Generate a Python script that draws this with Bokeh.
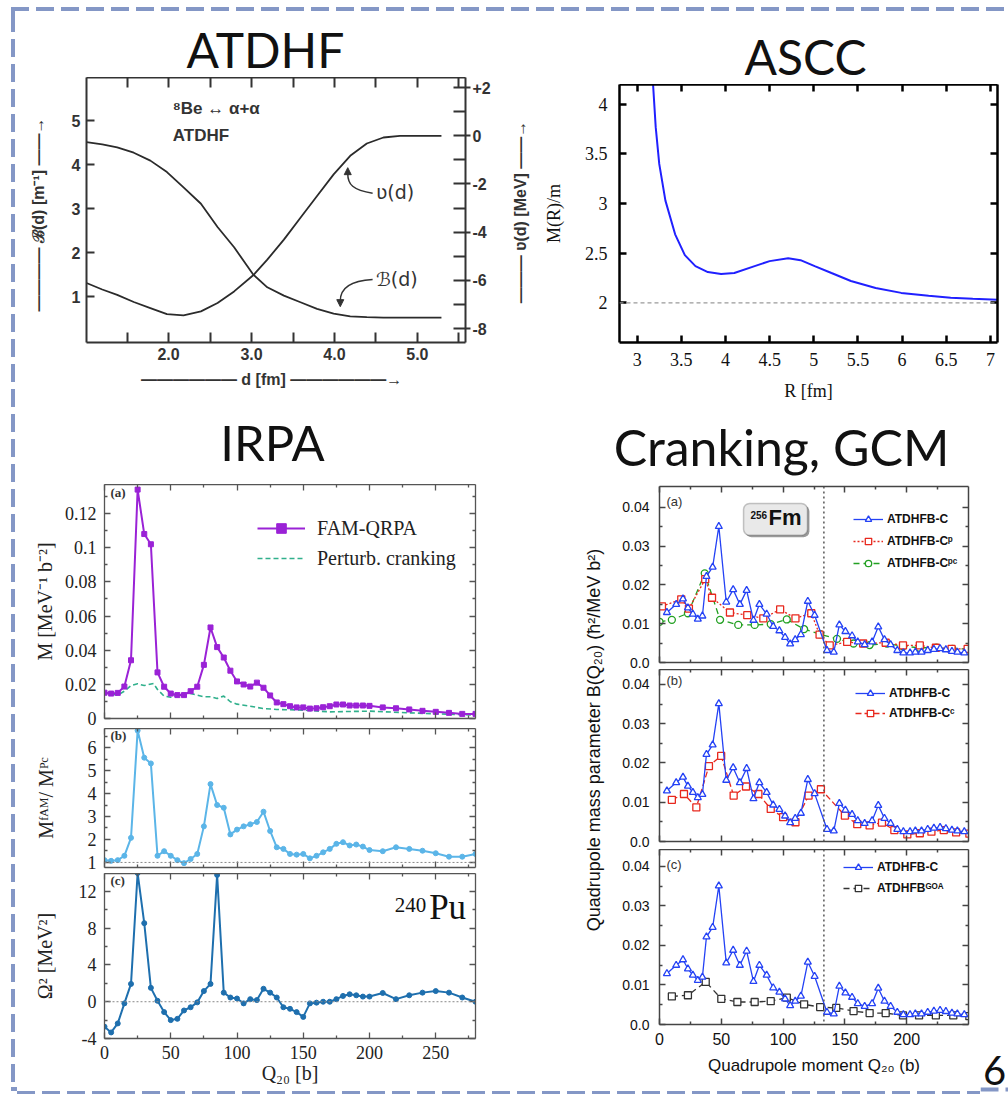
import math
from bokeh.plotting import figure
from bokeh.models import (Range1d, LinearAxis, Label, Span, Legend, LegendItem,
                          FixedTicker, CustomJSTickFormatter, Arrow, NormalHead,
                          BoxAnnotation, Div)
from bokeh.layouts import row, column
from bokeh.embed import file_html
from bokeh.resources import INLINE

# ============================ DATA ============================
# --- ATDHF : 8Be -> alpha + alpha ---
atdhf_d = [1.01, 1.2, 1.38, 1.58, 1.78, 1.98, 2.18, 2.39, 2.59, 2.79, 3.02,
           3.19, 3.39, 3.59, 3.79, 3.99, 4.19, 4.39, 4.59, 4.79, 5.0, 5.29]
atdhf_B = [4.51, 4.46, 4.39, 4.27, 4.09, 3.83, 3.48, 3.11, 2.58, 2.12, 1.50,
           1.21, 1.02, 0.87, 0.72, 0.61, 0.55, 0.53, 0.52, 0.52, 0.52, 0.52]
atdhf_V = [-6.11, -6.38, -6.60, -6.90, -7.15, -7.40, -7.45, -7.29, -6.94, -6.46, -5.79,
           -5.14, -4.31, -3.40, -2.50, -1.60, -0.83, -0.32, -0.07, 0.0, 0.0, 0.0]
atdhf_xticks = [1.5, 2.0, 2.5, 3.0, 3.5, 4.0, 4.5, 5.0, 5.5]
atdhf_xtick_labels = ["", "2.0", "", "3.0", "", "4.0", "", "5.0", ""]
atdhf_Bticks = [1, 2, 3, 4, 5]
atdhf_Btick_labels = ["1", "2", "3", "4", "5"]
atdhf_Vticks = [-8, -6, -4, -2, 0, 2]
atdhf_Vtick_labels = ["-8", "-6", "-4", "-2", "0", "+2"]
atdhf_Vminor = [-7, -5, -3, -1, 1]

# --- ASCC ---
ascc_R = [3.17, 3.18, 3.21, 3.25, 3.32, 3.43, 3.54, 3.66, 3.8, 3.95,
          4.1, 4.33, 4.5, 4.71, 4.85, 5.01, 5.2, 5.42, 5.7, 5.99,
          6.3, 6.55, 6.8, 7.08]
ascc_M = [4.35, 4.20, 3.77, 3.40, 3.03, 2.69, 2.48, 2.37, 2.31, 2.29,
          2.30, 2.37, 2.42, 2.45, 2.43, 2.37, 2.30, 2.22, 2.15, 2.10,
          2.07, 2.05, 2.04, 2.03]
ascc_xticks = [3, 3.5, 4, 4.5, 5, 5.5, 6, 6.5, 7]
ascc_xtick_labels = ["3", "3.5", "4", "4.5", "5", "5.5", "6", "6.5", "7"]
ascc_yticks = [2, 2.5, 3, 3.5, 4]
ascc_ytick_labels = ["2", "2.5", "3", "3.5", "4"]

# --- IRPA (240Pu) ---
irpa_q = [0, 5, 10, 15, 20, 25, 30, 35, 40, 45,
          50, 55, 60, 65, 70, 75, 80, 85, 90, 95,
          100, 105, 110, 115, 120, 125, 130, 135, 140, 145,
          150, 155, 160, 165, 170, 175, 180, 185, 190, 195,
          200, 210, 220, 230, 240, 250, 260, 270, 280]
irpa_fam = [0.0151, 0.0146, 0.0150, 0.0187, 0.0341, 0.134, 0.108, 0.102, 0.027, 0.0186,
            0.0146, 0.0137, 0.0137, 0.0160, 0.0186, 0.0314, 0.0533, 0.0418, 0.0357, 0.0280,
            0.0217, 0.0199, 0.0187, 0.0210, 0.0180, 0.0135, 0.0094, 0.0084, 0.0072, 0.0065,
            0.0065, 0.0058, 0.0060, 0.0066, 0.0072, 0.0082, 0.0082, 0.0076, 0.0076, 0.0076,
            0.0074, 0.0065, 0.0060, 0.0053, 0.0045, 0.0039, 0.0033, 0.0027, 0.0027]
irpa_pc_q = [0, 10, 15, 20, 25, 30, 37, 40, 45, 50, 55, 60, 65, 70, 75, 80, 85, 90, 95,
             100, 110, 120, 130, 150, 170, 200, 230, 260, 280]
irpa_pc = [0.0150, 0.0137, 0.0160, 0.0193, 0.0203, 0.0193, 0.0205, 0.0170, 0.0131, 0.0124,
           0.0137, 0.0146, 0.0146, 0.0137, 0.0127, 0.0127, 0.0117, 0.0131, 0.0098,
           0.0084, 0.0072, 0.0058, 0.0053, 0.0049, 0.0039, 0.0043, 0.0033, 0.0025, 0.0020]
irpa_ratio = [1.10, 1.07, 1.10, 1.29, 2.07, 6.74, 5.56, 5.31, 1.29, 1.49,
              1.29, 1.10, 0.97, 1.15, 1.37, 2.57, 4.41, 3.50, 3.38, 2.22,
              2.43, 2.57, 2.66, 2.76, 3.21, 2.37, 1.66, 1.59, 1.37, 1.34,
              1.37, 1.18, 1.29, 1.44, 1.59, 1.81, 1.88, 1.74, 1.78, 1.69,
              1.54, 1.49, 1.66, 1.59, 1.51, 1.40, 1.25, 1.25, 1.37]
irpa_omega2 = [-2.71, -3.34, -2.36, -0.18, 1.94, 14.0, 8.55, 1.51, 0.10, -1.13,
               -2.00, -1.86, -0.95, -0.60, -0.07, 1.16, 1.94, 13.8, 0.99, 0.46,
               0.35, -0.18, 0.28, 0.18, 1.41, 0.99, 0.46, -0.60, -0.77, -1.13,
               -1.65, -0.18, -0.10, 0.0, 0.0, 0.28, 0.63, 0.81, 0.70, 0.56,
               0.56, 0.95, 0.28, 0.70, 0.99, 1.16, 0.99, 0.46, 0.0]
irpa_xticks = [0, 50, 100, 150, 200, 250]
irpa_xtick_labels = ["0", "50", "100", "150", "200", "250"]
irpa_xminor = [25, 75, 125, 175, 225, 275]
irpa_a_yticks = [0, 0.02, 0.04, 0.06, 0.08, 0.1, 0.12]
irpa_a_ytick_labels = ["0", "0.02", "0.04", "0.06", "0.08", "0.1", "0.12"]
irpa_a_yminor = [0.01, 0.03, 0.05, 0.07, 0.09, 0.11, 0.13]
irpa_b_yticks = [1, 2, 3, 4, 5, 6]
irpa_b_ytick_labels = ["1", "2", "3", "4", "5", "6"]
irpa_b_yminor = [1.5, 2.5, 3.5, 4.5, 5.5, 6.5]
irpa_c_yticks = [-4, 0, 4, 8, 12]
irpa_c_ytick_labels = ["-4", "0", "4", "8", "12"]
irpa_c_yminor = [-2, 2, 6, 10]

# --- Cranking / GCM (256Fm) ---
cr_c_q = [6, 13.5, 19, 23, 27, 31, 34.7, 38, 43, 48,
          54, 59.6, 65, 70.5, 76, 80.8, 86.7, 92, 97, 101.6,
          105.7, 109.8, 114.4, 120, 125.5, 135.5, 141, 145.5, 150.4, 155.8,
          160.4, 166, 172, 177, 182, 187, 192.4, 197.3, 202.7, 207,
          212, 217, 222, 227, 231.7, 236.6, 241, 246.6]
cr_c = [0.0129, 0.0150, 0.0164, 0.0141, 0.0125, 0.0112, 0.0120, 0.0222, 0.0246, 0.0351,
        0.0156, 0.0188, 0.0150, 0.0186, 0.0109, 0.0150, 0.0125, 0.0093, 0.0082, 0.0065,
        0.0048, 0.0059, 0.0072, 0.0158, 0.0122, 0.0031, 0.0027, 0.0097, 0.0080, 0.0069,
        0.0053, 0.0046, 0.0053, 0.0092, 0.0059, 0.0046, 0.0031, 0.0025, 0.0025, 0.0027,
        0.0027, 0.0031, 0.0034, 0.0036, 0.0033, 0.0029, 0.0027, 0.0025]
cr_p_q = [2, 17.6, 23.8, 37, 42.5, 57, 71, 84, 97.6, 110,
          122.8, 129.5, 137.7, 151.8, 164.8, 183, 197, 210.6, 223.6, 236.3, 249.3]
cr_p = [0.0145, 0.0163, 0.0139, 0.0215, 0.0167, 0.0129, 0.0122, 0.0114, 0.0137, 0.0114,
        0.0127, 0.0072, 0.0044, 0.0053, 0.0049, 0.0051, 0.0044, 0.0044, 0.0038, 0.0035, 0.0035]
cr_pc_q = [0, 10, 23, 36.6, 49, 63.7, 77, 90, 103, 117,
           130, 143.6, 157, 170, 184, 197, 210.6, 224, 237, 250]
cr_pc = [0.0105, 0.0110, 0.0127, 0.0230, 0.0110, 0.0097, 0.0097, 0.0099, 0.0111, 0.0086,
         0.0073, 0.0061, 0.0049, 0.0045, 0.0049, 0.0042, 0.0038, 0.0038, 0.0035, 0.0035]
cr_cc_q = [10, 19.8, 29.8, 40, 49.9, 60, 70, 80, 90, 100,
           110, 120.6, 130.6, 150, 160, 170, 180, 190, 200.5, 210.6,
           220, 230, 240, 250.7]
cr_cc = [0.0106, 0.0121, 0.0087, 0.0192, 0.0218, 0.0117, 0.0140, 0.0121, 0.0083, 0.0062,
         0.0049, 0.0117, 0.0133, 0.0066, 0.0044, 0.0041, 0.0048, 0.0029, 0.0018, 0.0021,
         0.0025, 0.0029, 0.0023, 0.0020]
cr_goa_q = [10, 23, 37.4, 50, 63, 77, 90, 103, 117, 130,
            143, 157, 170, 183, 197, 210, 223.6, 237.7, 250.7]
cr_goa = [0.0071, 0.0074, 0.0108, 0.0065, 0.0057, 0.0057, 0.0059, 0.0068, 0.0051, 0.0044,
          0.0042, 0.0034, 0.0029, 0.0029, 0.0023, 0.0023, 0.0023, 0.0023, 0.0021]
cr_xticks = [0, 50, 100, 150, 200]
cr_xtick_labels = ["0", "50", "100", "150", "200"]
cr_xminor = [25, 75, 125, 175, 225]
cr_yticks = [0, 0.01, 0.02, 0.03, 0.04]
cr_ytick_labels = ["0.0", "0.01", "0.02", "0.03", "0.04"]
cr_yminor = [0.005, 0.015, 0.025, 0.035]
cr_scission_q = 133

# ============================ STYLE ============================
TITLE_FONT = "Lato"
SERIF = "Liberation Serif"
SANS = "Liberation Sans"
BORDER = "#8497c6"


def base_fig(w, h, xr, yr, l, r, t, b):
    p = figure(width=w, height=h, x_range=Range1d(*xr), y_range=Range1d(*yr),
               output_backend="svg", toolbar_location=None, frame_align=False,
               min_border_left=l, min_border_right=r, min_border_top=t, min_border_bottom=b)
    p.xgrid.visible = False
    p.ygrid.visible = False
    p.background_fill_color = "white"
    p.border_fill_color = "white"
    p.outline_line_color = None
    return p


def blank_fig(w, h):
    p = figure(width=w, height=h, x_range=Range1d(0, w), y_range=Range1d(0, h),
               output_backend="svg", toolbar_location=None, min_border=0, frame_align=False,
               x_axis_location=None, y_axis_location=None)
    p.xgrid.visible = False
    p.ygrid.visible = False
    p.outline_line_color = None
    p.background_fill_color = "white"
    p.border_fill_color = "white"
    return p


def style_axis(ax, color, lw, maj_in, min_in, maj_out=0, min_out=0):
    ax.axis_line_color = color
    ax.axis_line_width = lw
    ax.major_tick_line_color = color
    ax.major_tick_line_width = lw
    ax.minor_tick_line_color = color
    ax.minor_tick_line_width = lw
    ax.major_tick_in = maj_in
    ax.major_tick_out = maj_out
    ax.minor_tick_in = min_in
    ax.minor_tick_out = min_out


def label_axis(ax, ticks, labels, font, size, standoff, color="#111111", style="normal"):
    ax.major_label_overrides = dict(zip(ticks, labels))
    ax.major_label_text_font = font
    ax.major_label_text_font_size = size
    ax.major_label_text_font_style = style
    ax.major_label_text_color = color
    ax.major_label_standoff = standoff


def hide_labels(ax):
    ax.formatter = CustomJSTickFormatter(code="return ''")
    ax.major_label_text_font_size = "0px"
    ax.major_label_standoff = 0


def axis_title(ax, text, font, size, standoff, style="normal", color="#111111"):
    ax.axis_label = text
    ax.axis_label_text_font = font
    ax.axis_label_text_font_size = size
    ax.axis_label_text_font_style = style
    ax.axis_label_text_color = color
    ax.axis_label_standoff = standoff


def mirror(p, xticker, yticker, color, lw, maj_in, min_in):
    top = LinearAxis(ticker=xticker)
    style_axis(top, color, lw, maj_in, min_in)
    hide_labels(top)
    p.add_layout(top, "above")
    right = LinearAxis(ticker=yticker)
    style_axis(right, color, lw, maj_in, min_in)
    hide_labels(right)
    p.add_layout(right, "right")


def big_title(p, x, y, text, size):
    p.add_layout(Label(x=x, y=y, text=text, text_font=TITLE_FONT, text_font_size=size,
                       text_align="center", text_baseline="bottom", text_color="#111111"))


# ============================ TITLE STRIPS ============================
strip_a = blank_fig(523, 63)
big_title(strip_a, 248, 0, "ATDHF", "48px")
strip_b = blank_fig(468, 70)
big_title(strip_b, 265, 0, "ASCC", "48px")
strip_bot = blank_fig(991, 74)
big_title(strip_bot, 255, 14, "IRPA", "49px")
big_title(strip_bot, 764, 8, "Cranking, GCM", "50px")

# ============================ ATDHF ============================
FR1 = "#333333"
p1 = base_fig(488, 333, (1.01, 5.58), (-0.045, 5.98), 69, 40, 0, 68)
p1.extra_y_ranges = {"V": Range1d(-8.58, 2.42)}
p1.line(atdhf_d, atdhf_B, line_color="#2b2b2b", line_width=1.8)
p1.line(atdhf_d, atdhf_V, y_range_name="V", line_color="#2b2b2b", line_width=1.8)

xt1 = FixedTicker(ticks=atdhf_xticks)
bx1 = p1.xaxis[0]
bx1.ticker = xt1
style_axis(bx1, FR1, 2, 10, 0)
label_axis(bx1, atdhf_xticks, atdhf_xtick_labels, SANS, "16px", 5, "#333333", "bold")
axis_title(bx1, "——————  d [fm]  ——————→", SANS, "16px", 8, "bold", "#333333")

ly1 = p1.yaxis[0]
ly1.ticker = FixedTicker(ticks=atdhf_Bticks)
style_axis(ly1, FR1, 2, 8, 0)
label_axis(ly1, atdhf_Bticks, atdhf_Btick_labels, SANS, "16px", 6, "#333333", "bold")
axis_title(ly1, "————  ℬ(d) [m⁻¹]  ——→", SANS, "16px", 22, "bold", "#333333")

tx1 = LinearAxis(ticker=xt1)
style_axis(tx1, FR1, 2, 10, 0)
hide_labels(tx1)
p1.add_layout(tx1, "above")

ry1 = LinearAxis(y_range_name="V", ticker=FixedTicker(ticks=atdhf_Vticks, minor_ticks=atdhf_Vminor))
style_axis(ry1, FR1, 2, 12, 12, maj_out=5)
label_axis(ry1, atdhf_Vticks, atdhf_Vtick_labels, SANS, "16px", 2, "#333333", "bold")
p1.add_layout(ry1, "right")

p1.add_layout(Label(x=2.05, y=5.07, text="⁸Be ↔ α+α", text_font=SANS, text_font_size="17px",
                    text_font_style="bold", text_color="#333333"))
p1.add_layout(Label(x=2.05, y=4.44, text="ATDHF", text_font=SANS, text_font_size="17px",
                    text_font_style="bold", text_color="#333333"))
p1.add_layout(Label(x=4.50, y=3.12, text="ʋ(d)", text_font="DejaVu Sans", text_font_size="19px",
                    text_color="#333333"))
p1.add_layout(Label(x=4.50, y=1.15, text="ℬ(d)", text_font="DejaVu Sans", text_font_size="19px",
                    text_color="#333333"))
p1.bezier(x0=[4.46], y0=[3.35], x1=[4.16], y1=[3.80], cx0=[4.22], cy0=[3.42], cx1=[4.16], cy1=[3.55],
          line_color="#333333", line_width=1.5)
p1.add_layout(Arrow(end=NormalHead(size=7, fill_color="#333333", line_color="#333333"),
                    x_start=4.16, y_start=3.78, x_end=4.16, y_end=3.93,
                    line_color="#333333", line_width=1.5))
p1.bezier(x0=[4.46], y0=[1.39], x1=[4.07], y1=[0.90], cx0=[4.15], cy0=[1.36], cx1=[4.07], cy1=[1.15],
          line_color="#333333", line_width=1.5)
p1.add_layout(Arrow(end=NormalHead(size=7, fill_color="#333333", line_color="#333333"),
                    x_start=4.07, y_start=0.92, x_end=4.07, y_end=0.77,
                    line_color="#333333", line_width=1.5))

# right-hand axis title of the ATDHF panel (reads bottom to top)
vlab = blank_fig(35, 333)
vlab.add_layout(Label(x=15, y=203, text="———  ʋ(d) [MeV]  ——→", angle=math.pi / 2,
                      text_align="center", text_baseline="middle", text_font=SANS,
                      text_font_size="16px", text_font_style="bold", text_color="#333333"))

# ============================ ASCC ============================
FR2 = "#000000"
p2 = base_fig(468, 326, (2.8, 7.08), (1.6, 4.2), 77, 11, 0, 68)
p2.add_layout(Span(location=2.0, dimension="width", line_color="#9a9a9a", line_dash="4 3", line_width=1.2))
p2.line(ascc_R, ascc_M, line_color="#2020ff", line_width=2)
xt2 = FixedTicker(ticks=ascc_xticks)
yt2 = FixedTicker(ticks=ascc_yticks)
bx2 = p2.xaxis[0]
bx2.ticker = xt2
style_axis(bx2, FR2, 2.5, 7, 0)
label_axis(bx2, ascc_xticks, ascc_xtick_labels, SERIF, "18px", 10)
axis_title(bx2, "R [fm]", SERIF, "18px", 12)
ly2 = p2.yaxis[0]
ly2.ticker = yt2
style_axis(ly2, FR2, 2.5, 7, 0)
label_axis(ly2, ascc_yticks, ascc_ytick_labels, SERIF, "18px", 12)
axis_title(ly2, "M(R)/m", SERIF, "18px", 18)
mirror(p2, xt2, yt2, FR2, 2.5, 7, 0)

# ============================ IRPA ============================
FR3 = "#555555"
PURPLE = "#9a22d6"
TEAL = "#30b08c"
SKY = "#5bb5e8"
DBLUE = "#1e6fae"
xt3 = FixedTicker(ticks=irpa_xticks, minor_ticks=irpa_xminor)

pa = base_fig(523, 244, (0, 280), (0, 0.137), 87, 65, 0, 10)
l_pc = pa.line(irpa_pc_q, irpa_pc, line_color=TEAL, line_width=1.6, line_dash="5 3")
l_fam = pa.line(irpa_q, irpa_fam, line_color=PURPLE, line_width=2)
s_fam = pa.scatter(irpa_q, irpa_fam, marker="square", size=5, color=PURPLE)
yta = FixedTicker(ticks=irpa_a_yticks, minor_ticks=irpa_a_yminor)
ax = pa.xaxis[0]
ax.ticker = xt3
style_axis(ax, FR3, 1.3, 6, 3)
hide_labels(ax)
ay = pa.yaxis[0]
ay.ticker = yta
style_axis(ay, FR3, 1.3, 6, 3)
label_axis(ay, irpa_a_yticks, irpa_a_ytick_labels, SERIF, "18px", 8, "#222222")
axis_title(ay, "M [MeV⁻¹ b⁻²]", SERIF, "20px", 6, color="#222222")
mirror(pa, xt3, yta, FR3, 1.3, 6, 3)
leg_a = Legend(items=[LegendItem(label="FAM-QRPA", renderers=[l_fam, s_fam]),
                      LegendItem(label="Perturb. cranking", renderers=[l_pc])],
               location=(153, 148), background_fill_alpha=0, border_line_alpha=0,
               padding=0, margin=0, spacing=6, glyph_width=48, glyph_height=24,
               label_height=24, label_standoff=12, label_text_font=SERIF,
               label_text_font_size="20px", label_text_color="#222222")
pa.add_layout(leg_a)
pa.add_layout(Label(x=4.5, y=0.1277, text="(a)", text_font=SERIF, text_font_size="13px",
                    text_font_style="bold", text_color="#333333"))

pb = base_fig(523, 145, (0, 280), (0.78, 6.83), 87, 65, 0, 6)
pb.add_layout(Span(location=1, dimension="width", line_color="#888888", line_dash="2 2", line_width=1))
pb.line(irpa_q, irpa_ratio, line_color=SKY, line_width=2)
pb.scatter(irpa_q, irpa_ratio, marker="circle", size=5, color=SKY)
ytb = FixedTicker(ticks=irpa_b_yticks, minor_ticks=irpa_b_yminor)
bxb = pb.xaxis[0]
bxb.ticker = xt3
style_axis(bxb, FR3, 1.3, 6, 3)
hide_labels(bxb)
byb = pb.yaxis[0]
byb.ticker = ytb
style_axis(byb, FR3, 1.3, 6, 3)
label_axis(byb, irpa_b_yticks, irpa_b_ytick_labels, SERIF, "18px", 8, "#222222")
axis_title(byb, "Mᶠᴬᴹ/ Mᴾᶜ", SERIF, "20px", 28, color="#222222")
mirror(pb, xt3, ytb, FR3, 1.3, 6, 3)
pb.add_layout(Label(x=4.5, y=6.22, text="(b)", text_font=SERIF, text_font_size="13px",
                    text_font_style="bold", text_color="#333333"))

pc = base_fig(523, 213, (0, 280), (-4, 13.95), 87, 65, 0, 43)
pc.add_layout(Span(location=0, dimension="width", line_color="#888888", line_dash="2 2", line_width=1))
pc.line(irpa_q, irpa_omega2, line_color=DBLUE, line_width=2)
pc.scatter(irpa_q, irpa_omega2, marker="circle", size=5, color=DBLUE)
ytc = FixedTicker(ticks=irpa_c_yticks, minor_ticks=irpa_c_yminor)
cxc = pc.xaxis[0]
cxc.ticker = xt3
style_axis(cxc, FR3, 1.3, 6, 3)
label_axis(cxc, irpa_xticks, irpa_xtick_labels, SERIF, "18px", 7, "#222222")
axis_title(cxc, "Q₂₀ [b]", SERIF, "20px", 0, color="#222222")
cyc = pc.yaxis[0]
cyc.ticker = ytc
style_axis(cyc, FR3, 1.3, 6, 3)
label_axis(cyc, irpa_c_yticks, irpa_c_ytick_labels, SERIF, "18px", 8, "#222222")
axis_title(cyc, "Ω² [MeV²]", SERIF, "20px", 20, color="#222222")
mirror(pc, xt3, ytc, FR3, 1.3, 6, 3)
pc.add_layout(Label(x=4.5, y=12.37, text="(c)", text_font=SERIF, text_font_size="13px",
                    text_font_style="bold", text_color="#333333"))
pc.add_layout(Label(x=219, y=9.74, text="240", text_font=SERIF, text_font_size="21px",
                    text_color="#111111"))
pc.add_layout(Label(x=245, y=8.16, text="Pu", text_font=SERIF, text_font_size="35px",
                    text_color="#111111"))

# ============================ CRANKING / GCM ============================
FR4 = "#444444"
BLUE = "#2442f5"
RED = "#e8281e"
GREEN = "#22a022"
BLACK = "#333333"
xt4 = FixedTicker(ticks=cr_xticks, minor_ticks=cr_xminor)
yt4 = FixedTicker(ticks=cr_yticks, minor_ticks=cr_yminor)


def crank_fig(h, ytop, t, b, show_x):
    p = base_fig(370, h, (0, 250), (0, ytop), 49, 12, t, b)
    p.add_layout(Span(location=cr_scission_q, dimension="height", line_color="#555555",
                      line_dash="2 3", line_width=1.5))
    bx = p.xaxis[0]
    bx.ticker = xt4
    style_axis(bx, FR4, 1.5, 6, 3)
    if show_x:
        label_axis(bx, cr_xticks, cr_xtick_labels, SANS, "16px", 8, "#111111")
        axis_title(bx, "Quadrupole moment Q₂₀ (b)", SANS, "17px", 8)
    else:
        hide_labels(bx)
    ly = p.yaxis[0]
    ly.ticker = yt4
    style_axis(ly, FR4, 1.5, 6, 3)
    label_axis(ly, cr_yticks, cr_ytick_labels, SANS, "14px", 10, "#111111")
    mirror(p, xt4, yt4, FR4, 1.5, 6, 3)
    return p


def series(p, q, v, color, marker, dash):
    ln = p.line(q, v, line_color=color, line_width=1.3, line_dash=dash)
    sc = p.scatter(q, v, marker=marker, size=7, line_color=color, fill_color="white", line_width=1.3)
    return [ln, sc]


def crank_legend(p, items, loc, spacing):
    p.add_layout(Legend(items=items, location=loc, background_fill_alpha=0, border_line_alpha=0,
                        padding=0, margin=0, spacing=spacing, glyph_width=30, glyph_height=16,
                        label_height=16, label_standoff=4, label_text_font=SANS,
                        label_text_font_size="12px", label_text_font_style="bold",
                        label_text_color="#111111"))


ca = crank_fig(185, 0.0454, 2, 7, False)
r_pc = series(ca, cr_pc_q, cr_pc, GREEN, "circle", "6 4")
r_p = series(ca, cr_p_q, cr_p, RED, "square", "2 2")
r_c1 = series(ca, cr_c_q, cr_c, BLUE, "triangle", "solid")
crank_legend(ca, [LegendItem(label="ATDHFB-C", renderers=r_c1),
                  LegendItem(label="ATDHFB-Cᵖ", renderers=r_p),
                  LegendItem(label="ATDHFB-Cᵖᶜ", renderers=r_pc)], (194, 91), 6)
ca.add_layout(Label(x=5.7, y=0.0397, text="(a)", text_font=SANS, text_font_size="13px",
                    text_color="#333333"))
ca.add_layout(BoxAnnotation(left=69.6, right=121.3, bottom=0.0323, top=0.0405,
                            fill_color="#9a9a9a", fill_alpha=1, line_alpha=0, border_radius=6))
ca.add_layout(BoxAnnotation(left=68, right=119.7, bottom=0.0328, top=0.041,
                            fill_color="#e9e9e9", fill_alpha=1, line_color="#444444",
                            line_width=1.5, border_radius=6))
ca.add_layout(Label(x=73.6, y=0.0369, text="256", text_font=SANS, text_font_size="10px",
                    text_font_style="bold", text_color="#111111"))
ca.add_layout(Label(x=88.2, y=0.0343, text="Fm", text_font=SANS, text_font_size="22px",
                    text_font_style="bold", text_color="#111111"))

cb = crank_fig(180, 0.0438, 0, 8, False)
r_cc = series(cb, cr_cc_q, cr_cc, RED, "square", "6 3")
r_c2 = series(cb, cr_c_q, cr_c, BLUE, "triangle", "solid")
crank_legend(cb, [LegendItem(label="ATDHFB-C", renderers=r_c2),
                  LegendItem(label="ATDHFB-Cᶜ", renderers=r_cc)], (196, 120), 4)
cb.add_layout(Label(x=5.7, y=0.0392, text="(b)", text_font=SANS, text_font_size="13px",
                    text_color="#333333"))

cc = crank_fig(237, 0.0443, 0, 62, True)
r_goa = series(cc, cr_goa_q, cr_goa, BLACK, "square", "6 4")
r_c3 = series(cc, cr_c_q, cr_c, BLUE, "triangle", "solid")
crank_legend(cc, [LegendItem(label="ATDHFB-C", renderers=r_c3),
                  LegendItem(label="ATDHFBᴳᴼᴬ", renderers=r_goa)], (184, 128), 5)
cc.add_layout(Label(x=5.7, y=0.0385, text="(c)", text_font=SANS, text_font_size="13px",
                    text_color="#333333"))

# shared y label for the cranking stack
cl = blank_fig(70, 602)
cl.add_layout(Label(x=53, y=349, text="Quadrupole mass parameter B(Q₂₀)  (ħ²/MeV b²)",
                    angle=math.pi / 2, text_align="center", text_baseline="middle",
                    text_font=SANS, text_font_size="18px", text_color="#111111"))

# slide page number column (reaches the bottom of the page, carries its piece of the border)
six = blank_fig(28, 610)
six.line([0, 28], [5, 5], line_color=BORDER, line_width=4, line_dash="18 7")
six.add_layout(Label(x=14, y=10, text="6", text_font=TITLE_FONT, text_font_size="40px",
                     text_align="center", text_baseline="bottom", text_color="#111111"))

# ============================ PAGE BORDER ============================
top_div = Div(text=(f'<svg width="1008" height="14" style="display:block">'
                    f'<line x1="11" y1="9" x2="1008" y2="9" stroke="{BORDER}" stroke-width="4" stroke-dasharray="18 7"/>'
                    f'<line x1="13" y1="10" x2="13" y2="14" stroke="{BORDER}" stroke-width="4"/></svg>'),
              width=1008, height=14, margin=0)
left_div = Div(text=(f'<svg width="17" height="1080" style="display:block">'
                     f'<line x1="13" y1="0" x2="13" y2="1075" stroke="{BORDER}" stroke-width="4" stroke-dasharray="18 7"/>'
                     f'<line x1="11" y1="1075" x2="17" y2="1075" stroke="{BORDER}" stroke-width="4"/></svg>'),
               width=17, height=1080, margin=0)
bottom_div = Div(text=(f'<svg width="963" height="8" style="display:block">'
                       f'<line x1="0" y1="3" x2="963" y2="3" stroke="{BORDER}" stroke-width="4" stroke-dasharray="18 7"/></svg>'),
                 width=963, height=8, margin=0)

top_section = row(column(strip_a, row(p1, vlab)), column(strip_b, p2))
bottom_section = row(column(row(column(pa, pb, pc), cl, column(ca, cb, cc)), bottom_div), six)

layout = column(
    top_div,
    row(left_div, column(top_section, strip_bot, bottom_section)))

with open("out.html", "w") as f:
    f.write(file_html(layout, INLINE, "Mass parameters"))
